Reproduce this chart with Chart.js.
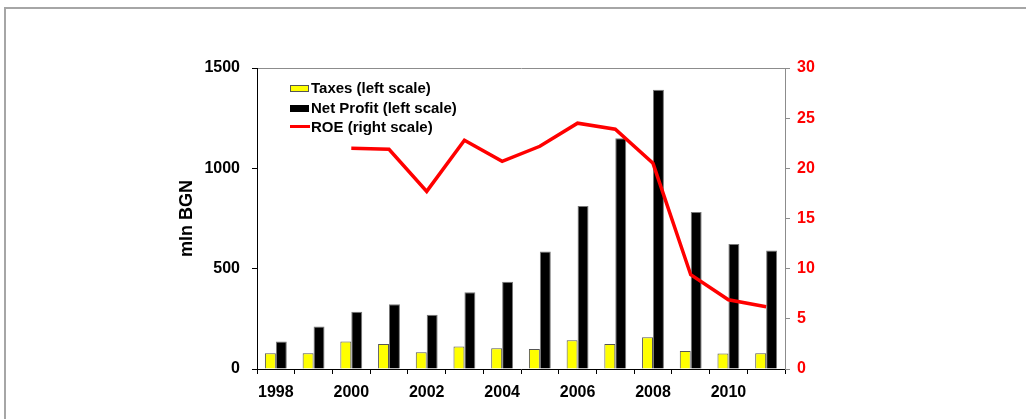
<!DOCTYPE html>
<html>
<head>
<meta charset="utf-8">
<script src="https://cdn.jsdelivr.net/npm/chart.js@4.4.1/dist/chart.umd.min.js"></script>
<style>
  html, body { margin: 0; padding: 0; background: #fff; }
  #wrap { position: relative; width: 1026px; height: 419px; overflow: hidden; }
  #frame { position: absolute; left: 4px; top: 7px; width: 1100px; height: 500px;
           border-top: 2px solid #a6a6a6; border-left: 2px solid #a6a6a6; }
  #legend { position: absolute; left: 290px; top: 78px; font: bold 15px 'Liberation Sans', Arial, sans-serif; color: #000; }
  #legend div { height: 19.5px; line-height: 19.5px; white-space: nowrap; }
  #legend span.sw { display: inline-block; width: 19px; height: 7px; margin-right: 2px; vertical-align: 1px; box-sizing: border-box; }
  #legend span.ln { display: inline-block; width: 20px; height: 3px; margin-right: 1px; vertical-align: 4px; background: #ff0000; }
</style>
</head>
<body>
<div id="wrap">
  <div id="frame"></div>
  <canvas id="chart" width="1026" height="419"></canvas>
  <div id="legend">
    <div><span class="sw" style="background:#ffff00;border:1px solid #555"></span>Taxes (left scale)</div>
    <div><span class="sw" style="background:#000"></span>Net Profit (left scale)</div>
    <div><span class="ln"></span>ROE (right scale)</div>
  </div>
</div>
<script>
const years = ['1998', '1999', '2000', '2001', '2002', '2003', '2004', '2005', '2006', '2007', '2008', '2009', '2010', '2011'];
const taxes = [78, 78, 137, 125, 83, 112, 103, 100, 143, 125, 158, 90, 77, 78];
const netProfit = [137, 212, 285, 323, 270, 383, 435, 585, 812, 1150, 1392, 783, 623, 590];
const roe = [null, null, 22.0, 21.9, 17.7, 22.8, 20.7, 22.2, 24.5, 23.9, 20.5, 9.4, 6.9, 6.2];

const font = { family: "'Liberation Sans', Arial, sans-serif", weight: 'bold', size: 16 };

new Chart(document.getElementById('chart'), {
    type: 'bar',
    data: {
        labels: years,
        datasets: [
            {
                type: 'line',
                label: 'ROE (right scale)',
                data: roe,
                yAxisID: 'y1',
                borderColor: '#ff0000',
                borderWidth: 3.5,
                pointRadius: 0,
                tension: 0,
                order: 0
            },
            {
                label: 'Taxes (left scale)',
                data: taxes,
                backgroundColor: '#ffff00',
                borderColor: '#555555',
                borderWidth: 1,
                categoryPercentage: 0.58,
                barPercentage: 1,
                order: 1
            },
            {
                label: 'Net Profit (left scale)',
                data: netProfit,
                backgroundColor: '#000000',
                borderColor: '#777777',
                borderWidth: 1,
                categoryPercentage: 0.58,
                barPercentage: 1,
                order: 2
            }
        ]
    },
    options: {
        responsive: false,
        animation: false,
        layout: { padding: { top: 68, left: 176, right: 0, bottom: 0 } },
        plugins: { legend: { display: false }, tooltip: { enabled: false } },
        scales: {
            x: {
                position: 'bottom',
                grid: { offset: true, drawOnChartArea: false, color: '#000', tickLength: 5 },
                border: { color: '#000', width: 1 },
                ticks: {
                    color: '#000', font: font, autoSkip: false, maxRotation: 0, padding: 9,
                    callback: (v, i) => (i % 2 === 0 ? years[i] : '')
                },
                afterFit: s => { s.height = 50; }
            },
            xTop: {
                position: 'top',
                type: 'category',
                labels: years,
                grid: { display: false, drawTicks: false },
                border: { display: true, color: '#8c8c8c', width: 1 },
                ticks: { display: false },
                afterFit: s => { s.height = 0; }
            },
            y: {
                position: 'left',
                min: 0, max: 1500,
                ticks: { stepSize: 500, color: '#000', font: font, padding: 12,
                         callback: v => String(v) },
                grid: { drawOnChartArea: false, color: '#000', tickLength: 5 },
                border: { color: '#000', width: 1 },
                title: { display: true, text: 'mln BGN', color: '#000', padding: 0,
                         font: { family: font.family, weight: 'bold', size: 18 } },
                afterFit: s => { s.width = 81; }
            },
            y1: {
                position: 'right',
                min: 0, max: 30,
                ticks: { stepSize: 5, color: '#ff0000', font: font, padding: 7,
                         callback: v => String(v) },
                grid: { drawOnChartArea: false, color: '#8c8c8c', tickLength: 5 },
                border: { color: '#8c8c8c', width: 1 },
                afterFit: s => { s.width = 241; }
            }
        }
    }
});
</script>
</body>
</html>
